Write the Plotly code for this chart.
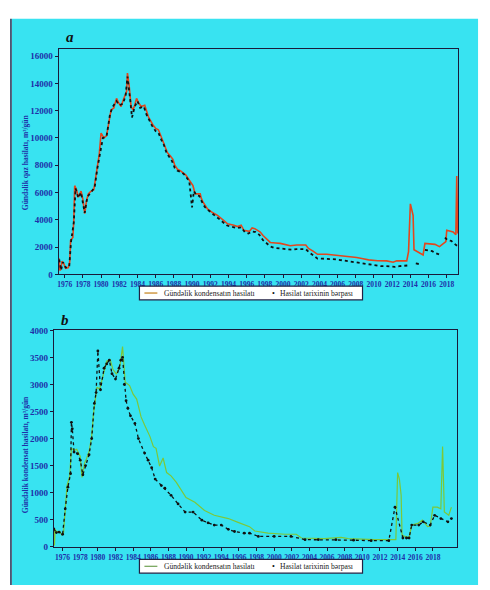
import plotly.graph_objects as go

# ---------------- Panel a: gas production ----------------
gas_years = [1975.35, 1975.45, 1975.55, 1975.7, 1975.9, 1976.1, 1976.4, 1976.55, 1976.65, 1976.9,
             1977.0, 1977.1, 1977.3, 1977.5, 1977.8, 1978.0, 1978.2, 1978.4, 1978.6, 1978.9,
             1979.2, 1979.5, 1979.8, 1980.0, 1980.3, 1980.6, 1980.9, 1981.1, 1981.4, 1981.7,
             1981.9, 1982.2, 1982.4, 1982.6, 1982.8, 1982.9, 1983.1, 1983.3, 1983.5, 1983.7,
             1983.9, 1984.1, 1984.4, 1984.8, 1985.0, 1985.2, 1985.5, 1985.7, 1986.0, 1986.3,
             1986.6, 1986.8, 1987.1, 1987.3, 1987.6, 1987.9, 1988.1, 1988.4, 1988.7, 1989.0,
             1989.3, 1989.5, 1989.8, 1990.1, 1990.3, 1990.4, 1990.9, 1991.0, 1991.2, 1991.5,
             1991.7, 1992.2, 1992.8, 1993.4, 1993.9, 1994.6, 1995.0, 1995.4, 1995.7, 1996.3,
             1996.6, 1996.9, 1997.5, 1997.8, 1998.1, 1998.6, 1999.2, 1999.7, 2000.8, 2001.5,
             2002.5, 2002.8, 2003.3, 2003.8, 2004.8, 2005.5, 2006.3, 2007.2, 2008.1, 2008.8,
             2009.4, 2010.4, 2011.4, 2012.1, 2012.5, 2013.6, 2013.8, 2014.0, 2014.15, 2014.3,
             2014.4, 2014.7, 2015.0, 2015.4, 2015.6, 2016.2, 2016.7, 2017.2, 2017.6, 2017.9,
             2018.0, 2018.3, 2018.7, 2019.0, 2019.1, 2019.2]
gas_values = [1200, 300, 350, 950, 800, 450, 500, 900, 2500, 2700,
              3900, 6500, 6200, 5650, 6100, 5500, 4450, 5400, 5900, 6100,
              6200, 7450, 8800, 10350, 10000, 10150, 11500, 12050, 12200, 12900,
              12600, 12300, 12700, 13000, 13400, 14750, 13750, 12300, 12050, 12400,
              12900, 12600, 12300, 12400, 11900, 11550, 11200, 10950, 10700, 10600,
              10100, 9750, 9200, 8900, 8700, 8430, 8000, 7700, 7600, 7450,
              7300, 7100, 6800, 6500, 6000, 5900, 5900, 5600, 5300, 5000,
              4800, 4550, 4320, 4000, 3700, 3600, 3500, 3600, 3230, 3150,
              3400, 3350, 3100, 2850, 2630, 2340, 2300, 2270, 2100, 2150,
              2150, 1900, 1700, 1470, 1470, 1430, 1380, 1300, 1230, 1150,
              1060, 1000, 990, 890, 990, 990, 1670, 5170, 4700, 4320,
              1800, 1670, 1550, 1420, 2270, 2250, 2200, 2030, 2270, 2400,
              3230, 3150, 3100, 2900, 7200, 2990]

gas_hist_years = [1975.4, 1975.6, 1975.8, 1976.1, 1976.5, 1976.7, 1977.0, 1977.2, 1977.5, 1977.8,
                  1978.2, 1978.5, 1978.9, 1979.3, 1979.6, 1979.9, 1980.2, 1980.6, 1981.0, 1981.3,
                  1981.7, 1982.0, 1982.4, 1982.7, 1982.9, 1983.2, 1983.4, 1983.7, 1984.0, 1984.3,
                  1984.7, 1985.0, 1985.3, 1985.6, 1986.0, 1986.3, 1986.6, 1986.9, 1987.2, 1987.5,
                  1987.8, 1988.1, 1988.4, 1988.8, 1989.1, 1989.4, 1989.7, 1990.0, 1990.2, 1990.5,
                  1990.8, 1991.1, 1991.4, 1991.8, 1992.2, 1992.6, 1993.0, 1993.4, 1993.8, 1994.2,
                  1994.6, 1995.0, 1995.4, 1995.8, 1996.2, 1996.6, 1997.0, 1997.4, 1997.8, 1998.2,
                  1998.6, 1999.0, 1999.5, 2000.0, 2000.5, 2001.0, 2001.5, 2002.0, 2002.5, 2002.9,
                  2003.3, 2003.8, 2004.3, 2004.8, 2005.3, 2005.8, 2006.3, 2006.8, 2007.3, 2007.8,
                  2008.3, 2008.8, 2009.3, 2009.8, 2010.3, 2010.8, 2011.3, 2011.8, 2012.3, 2012.8,
                  2013.3, 2013.7, None, 2014.6, 2014.8, 2015.0, None, 2015.6, 2016.0, 2016.4,
                  2016.8, 2017.2, 2017.4, None, 2017.8, 2018.1, 2018.5, 2018.8, 2019.1, 2019.2]
gas_hist_values = [1100, 300, 900, 500, 550, 2400, 3800, 6300, 5600, 6000,
                   4500, 5700, 6000, 6400, 7800, 9000, 10000, 10100, 11800, 12300,
                   12700, 12400, 12500, 13100, 14500, 12800, 11500, 12300, 12700, 12200,
                   12300, 11700, 11300, 10900, 10500, 10400, 9900, 9500, 8900, 8600,
                   8300, 7800, 7600, 7500, 7350, 7100, 6800, 4900, 6100, 5800,
                   5750, 5300, 4950, 4700, 4450, 4250, 4050, 3850, 3600, 3500,
                   3450, 3400, 3450, 3100, 3000, 3150, 3100, 2900, 2500, 2300,
                   2050, 1950, 1900, 1850, 1800, 1800, 1850, 1850, 1850, 1600,
                   1400, 1150, 1150, 1150, 1100, 1100, 1050, 1000, 950, 900,
                   850, 800, 700, 650, 600, 600, 600, 550, 550, 600,
                   600, 650, None, 800, 750, 750, None, 1800, 1750, 1700,
                   1550, 1450, 1400, None, 2700, 2500, 2450, 2300, 2100, 2050]

# ---------------- Panel b: condensate production ----------------
cond_years = [1975.0, 1975.08, 1975.15, 1975.3, 1975.7, 1975.9, 1976.1, 1976.3, 1976.5, 1976.8,
              1977.0, 1977.3, 1977.6, 1978.0, 1978.2, 1978.5, 1978.7, 1979.0, 1979.3, 1979.5,
              1979.7, 1979.9, 1980.2, 1980.6, 1981.0, 1981.4, 1981.7, 1982.1, 1982.5, 1982.8,
              1982.9, 1983.1, 1983.6, 1984.0, 1984.4, 1984.9, 1985.3, 1985.7, 1985.9, 1986.3,
              1986.6, 1987.0, 1987.4, 1987.8, 1988.3, 1988.9, 1989.5, 1990.0, 1991.0, 1992.1,
              1993.2, 1994.8, 1995.9, 1996.6, 1997.2, 1997.8, 1999.3, 2001.2, 2002.5, 2003.1,
              2005.7, 2007.6, 2008.4, 2011.4, 2013.8, 2014.0, 2014.2, 2014.4, 2014.5, 2014.8,
              2015.3, 2015.6, 2016.3, 2016.8, 2017.4, 2017.7, 2018.0, 2018.5, 2018.9, 2019.1,
              2019.3, 2019.8, 2020.1]
cond_values = [345, 20, 320, 280, 280, 220, 250, 760, 1130, 1300,
               1820, 1780, 1800, 1670, 1280, 1550, 1620, 1760, 2040, 2460,
               2760, 2950, 2910, 3190, 3430, 3460, 3280, 3190, 3340, 3700,
               3430, 3040, 2980, 2820, 2730, 2400, 2250, 2100, 2040, 1850,
               1820, 1490, 1640, 1370, 1310, 1190, 1040, 910, 820, 670,
               580, 520, 450, 410, 370, 290, 250, 230, 230, 160,
               150, 170, 150, 130, 130, 1370, 1250, 950, 220, 190,
               170, 400, 430, 490, 370, 380, 730, 730, 700, 1850,
               640, 580, 730]

cond_hist_years = [1975.0, 1975.3, 1975.6, 1976.0, 1976.3, 1976.6, 1976.9, 1977.0, 1977.1, 1977.3,
                   1977.7, 1978.0, 1978.3, 1978.6, 1979.0, 1979.3, 1979.6, 1979.8, 1980.0, 1980.3,
                   1980.7, 1981.0, 1981.3, 1981.6, 1982.0, 1982.4, 1982.6, 1982.8, 1983.0, 1983.2,
                   1983.4, 1983.7, 1984.2, 1984.6, 1985.3, 1985.7, 1986.1, 1986.5, 1987.2, 1987.6,
                   1988.3, 1989.1, 1989.9, 1990.8, 1991.8, 1992.5, 1993.2, 1994.0, 1994.8, 1995.5,
                   1996.6, 1997.2, 1998.2, 2000.0, 2001.9, 2003.5, 2005.0, 2007.0, 2009.0, 2011.0,
                   2013.0, 2013.7, 2014.6, 2015.0, 2015.3, 2015.6, 2016.4, 2016.9, 2017.7, 2018.2,
                   2018.9, 2019.7, 2020.1]
cond_hist_values = [330, 260, 270, 230, 700, 1100, 1350, 2300, 2180, 1750,
                    1720, 1600, 1330, 1500, 1700, 2000, 2650, 2850, 3620, 2900,
                    3300, 3380, 3450, 3200, 3100, 3300, 3450, 3500, 3000, 2700,
                    2560, 2420, 2280, 2000, 1730, 1600, 1460, 1250, 1130, 1080,
                    950, 790, 640, 640, 490, 440, 400, 400, 320, 280,
                    250, 250, 190, 190, 190, 130, 130, 130, 120, 110,
                    110, 730, 160, 160, 160, 400, 400, 460, 400, 580,
                    520, 460, 520]

year_ticks = list(range(1976, 2019, 2))
gas_ticks = list(range(0, 16001, 2000))
cond_ticks = list(range(0, 4001, 500))

label_line = "Gündəlik kondensatın hasilatı"
label_hist = "Hasilat tarixinin bərpası"

W, H = 490, 590
def px(x):
    return x / W
def py(y):
    return 1 - y / H

BLUE = "#1f2fa8"
CYAN = "#38e3f1"
SERIF = "Liberation Serif"
RED = "#e4461c"
GREEN = "#7cc83a"

fig = go.Figure()
fig.add_trace(go.Scatter(x=gas_years, y=gas_values, mode="lines", name=label_line,
                         line=dict(color=RED, width=1.6), showlegend=False,
                         xaxis="x", yaxis="y"))
fig.add_trace(go.Scatter(x=gas_hist_years, y=gas_hist_values, mode="lines", name=label_hist,
                         line=dict(color="#111111", width=1.8, dash="dot"), showlegend=False,
                         xaxis="x", yaxis="y"))
fig.add_trace(go.Scatter(x=cond_years, y=cond_values, mode="lines", name=label_line,
                         line=dict(color=GREEN, width=1.2), showlegend=False,
                         xaxis="x2", yaxis="y2"))
fig.add_trace(go.Scatter(x=cond_hist_years, y=cond_hist_values, mode="lines+markers", name=label_hist,
                         marker=dict(color="#111111", size=2.8),
                         line=dict(color="#111111", width=1.3, dash="dot"), showlegend=False,
                         xaxis="x2", yaxis="y2"))

axis_common = dict(showline=True, linecolor="#1a1a3a", linewidth=1.2, mirror=True,
                   showgrid=False, zeroline=False, ticks="outside", ticklen=3,
                   tickcolor="#1a1a3a")

def legend_items(y_top, y_bot, line_color):
    ym = (y_top + y_bot) / 2
    shapes = [
        dict(type="rect", xref="paper", yref="paper", x0=px(138), x1=px(362),
             y0=py(y_bot), y1=py(y_top), fillcolor="white",
             line=dict(color="#222244", width=1.2)),
        dict(type="line", xref="paper", yref="paper", x0=px(143), x1=px(156),
             y0=py(ym), y1=py(ym), line=dict(color=line_color, width=1.3)),
    ]
    anns = [
        dict(text=label_line, x=px(161), y=py(ym), xref="paper", yref="paper",
             xanchor="left", yanchor="middle", showarrow=False,
             font=dict(family=SERIF, size=7.6, color="#222222")),
        dict(text="•", x=px(273), y=py(ym), xref="paper", yref="paper",
             xanchor="center", yanchor="middle", showarrow=False,
             font=dict(family=SERIF, size=8, color="#111111")),
        dict(text=label_hist, x=px(277), y=py(ym), xref="paper", yref="paper",
             xanchor="left", yanchor="middle", showarrow=False,
             font=dict(family=SERIF, size=7.6, color="#222222")),
    ]
    return shapes, anns

lg_a_shapes, lg_a_anns = legend_items(286, 300, "#c88a2a")
lg_b_shapes, lg_b_anns = legend_items(564, 578, "#7aa860")

fig.update_layout(
    width=W, height=H,
    margin=dict(l=0, r=0, t=0, b=0),
    paper_bgcolor="white",
    plot_bgcolor="white",
    showlegend=False,
    xaxis=dict(domain=[px(57), px(458)], range=[1975.35, 2019.25], anchor="y",
               tickvals=year_ticks, tickfont=dict(family=SERIF, size=7.5, color=BLUE, weight="bold"),
               **axis_common),
    yaxis=dict(domain=[py(274), py(45)], range=[0, 16500], anchor="x",
               tickvals=gas_ticks, tickformat="d",
               tickfont=dict(family=SERIF, size=9, color=BLUE, weight="bold"),
               **axis_common),
    xaxis2=dict(domain=[px(52), px(457)], range=[1975.0, 2020.75], anchor="y2",
                tickvals=year_ticks, tickfont=dict(family=SERIF, size=7.5, color=BLUE, weight="bold"),
                **axis_common),
    yaxis2=dict(domain=[py(551), py(331)], range=[0, 4000], anchor="x2",
                tickvals=cond_ticks, tickformat="d",
                tickfont=dict(family=SERIF, size=9, color=BLUE, weight="bold"),
                **axis_common),
    shapes=[
        dict(type="rect", xref="paper", yref="paper", x0=px(10), x1=px(478), y0=0, y1=py(14),
             fillcolor=CYAN, line=dict(width=0), layer="below"),
        dict(type="line", xref="paper", yref="paper", x0=px(9), x1=px(9), y0=0, y1=py(14),
             line=dict(color="#1a2a50", width=1.5)),
    ] + lg_a_shapes + lg_b_shapes,
    annotations=[
        dict(text="<b><i>a</i></b>", x=px(68), y=py(33), xref="paper", yref="paper",
             xanchor="center", yanchor="middle",
             showarrow=False, font=dict(family=SERIF, size=15, color="#111111")),
        dict(text="<b><i>b</i></b>", x=px(63), y=py(320), xref="paper", yref="paper",
             xanchor="center", yanchor="middle",
             showarrow=False, font=dict(family=SERIF, size=15, color="#111111")),
        dict(text="<b>Gündəlik qaz hasilatı, m³/gün</b>", x=px(23), y=py(160), xref="paper", yref="paper",
             xanchor="center", yanchor="middle",
             showarrow=False, textangle=-90, font=dict(family=SERIF, size=7.5, color=BLUE)),
        dict(text="<b>Gündəlik kondensat hasilatı, m³/gün</b>", x=px(23), y=py(457), xref="paper", yref="paper",
             xanchor="center", yanchor="middle",
             showarrow=False, textangle=-90, font=dict(family=SERIF, size=7.5, color=BLUE)),
    ] + lg_a_anns + lg_b_anns,
)

fig.write_html("out.html")
